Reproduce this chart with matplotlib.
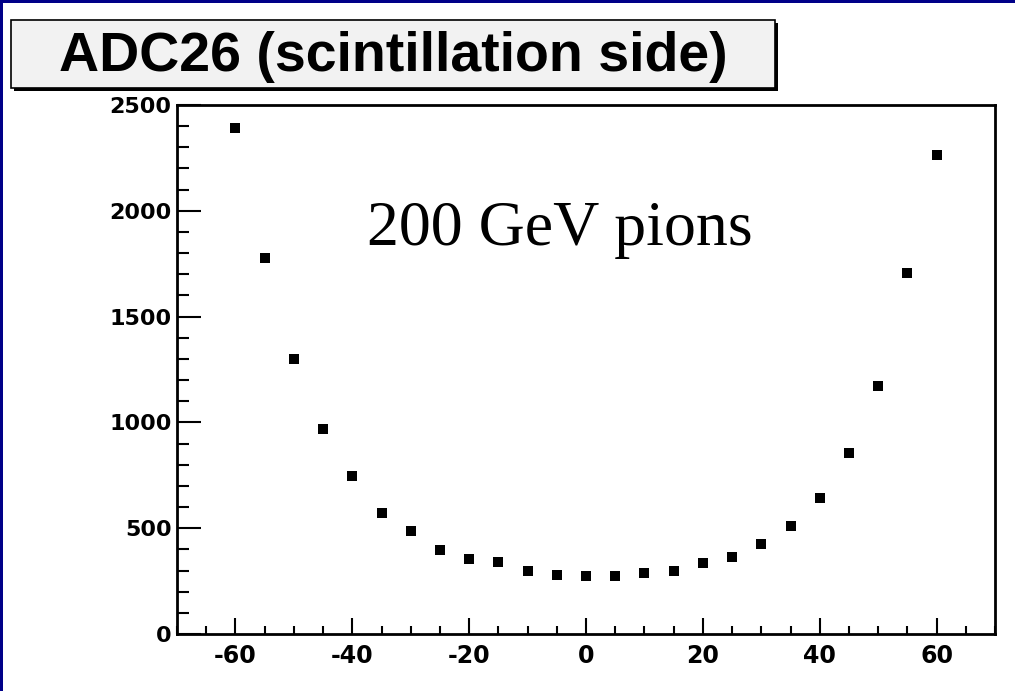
import matplotlib
matplotlib.use("Agg")
import matplotlib.pyplot as plt
from matplotlib.patches import Rectangle
from matplotlib.ticker import MultipleLocator

plt.rcParams["axes.unicode_minus"] = False

# data
angle = [-60, -55, -50, -45, -40, -35, -30, -25, -20, -15, -10, -5,
         0, 5, 10, 15, 20, 25, 30, 35, 40, 45, 50, 55, 60]
adc = [2393, 1775, 1300, 969, 747, 573, 487, 398, 356, 340, 298, 280,
       276, 276, 287, 298, 336, 364, 427, 510, 644, 857, 1173, 1706, 2264]

title_text = "ADC26 (scintillation side)"
note_text = "200 GeV pions"

W, H = 1015, 691
fig = plt.figure(figsize=(W / 100, H / 100), dpi=100)
fig.patch.set_facecolor("white")


def px_rect(x0, y0, x1, y1, **kw):
    # rectangle given in pixel coords (origin at top left)
    return Rectangle((x0 / W, 1 - y1 / H), (x1 - x0) / W, (y1 - y0) / H,
                     transform=fig.transFigure, **kw)


# navy frame on left and top
fig.patches.append(px_rect(0, 0, 3, H, color="#000088", lw=0))
fig.patches.append(px_rect(0, 0, W, 3, color="#000088", lw=0))

# title box with shadow
fig.patches.append(px_rect(14, 23, 778, 91, facecolor="black", lw=0))
fig.patches.append(px_rect(11, 20, 775, 88, facecolor="#f2f2f2",
                           edgecolor="black", lw=1.2))
fig.text(393 / W, 1 - 57 / H, title_text, ha="center", va="center",
         fontsize=40, fontweight="bold", family="Liberation Sans")

ax = fig.add_axes([177 / W, 1 - 634 / H, 818 / W, 529 / H])
ax.plot(angle, adc, linestyle="none", marker="s", markersize=6.5,
        color="black", markeredgewidth=0)

ax.set_xlim(-70, 70)
ax.set_ylim(0, 2500)
ax.xaxis.set_major_locator(MultipleLocator(20))
ax.xaxis.set_minor_locator(MultipleLocator(5))
ax.yaxis.set_major_locator(MultipleLocator(500))
ax.yaxis.set_minor_locator(MultipleLocator(100))

for s in ax.spines.values():
    s.set_linewidth(2)

ax.tick_params(axis="x", which="major", direction="in", length=11.5, width=1.5, pad=7)
ax.tick_params(axis="x", which="minor", direction="in", length=5.8, width=1.5)
ax.tick_params(axis="y", which="major", direction="in", length=17.3, width=1.5, pad=4)
ax.tick_params(axis="y", which="minor", direction="in", length=8.6, width=1.5)
for lab in ax.get_xticklabels():
    lab.set_fontweight("bold")
    lab.set_fontsize(17)
    lab.set_family("DejaVu Sans")
for lab in ax.get_yticklabels():
    lab.set_fontweight("bold")
    lab.set_fontsize(16)
    lab.set_family("DejaVu Sans")

ax.text(-37.5, 1840, note_text, fontsize=46, family="Liberation Serif",
        ha="left", va="baseline")

fig.savefig("out.png", dpi=100)
